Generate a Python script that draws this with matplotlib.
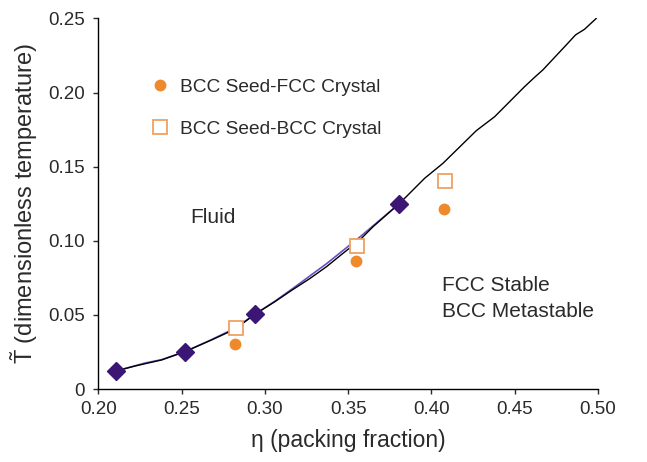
import matplotlib
matplotlib.use("Agg")
import matplotlib.pyplot as plt
from matplotlib.lines import Line2D

plt.rcParams["font.family"] = ["Liberation Sans", "DejaVu Sans"]
plt.rcParams["mathtext.fontset"] = "custom"
plt.rcParams["mathtext.rm"] = "Liberation Sans"
plt.rcParams["mathtext.it"] = "Liberation Sans:italic"

# -----------------------------
# Data
# -----------------------------

# simulated coexistence points (diamonds)
eta_sim = [0.2104, 0.252, 0.294, 0.3805]
T_sim = [0.0121, 0.0252, 0.0504, 0.1248]

# smooth curve through the diamonds (purple)
eta_fit = [0.2104, 0.228, 0.238, 0.252, 0.268, 0.282, 0.294, 0.306, 0.317,
           0.337, 0.357, 0.3805]
T_fit = [0.0121, 0.0175, 0.0198, 0.0252, 0.0333, 0.0410, 0.0504, 0.0592,
         0.0680, 0.0845, 0.1025, 0.1248]

# theoretical melting line (black)
eta_line = [0.2104, 0.222, 0.238, 0.252, 0.268, 0.282, 0.294, 0.306, 0.316,
            0.327, 0.337, 0.347, 0.357, 0.365, 0.3804, 0.384, 0.396, 0.407,
            0.427, 0.438, 0.456, 0.462, 0.467, 0.481, 0.4866, 0.492, 0.499]
T_line = [0.0121, 0.0155, 0.0196, 0.0252, 0.0331, 0.0403, 0.0504, 0.0589,
          0.0665, 0.0745, 0.0825, 0.0916, 0.1005, 0.1095, 0.1248, 0.1287,
          0.1422, 0.1523, 0.1743, 0.1837, 0.2040, 0.2103, 0.2153, 0.2321,
          0.2389, 0.2427, 0.2500]

# seeding simulations
eta_fcc = [0.2823, 0.355, 0.4077]
T_fcc = [0.0306, 0.0864, 0.1213]
eta_bcc = [0.2826, 0.3556, 0.408]
T_bcc = [0.0410, 0.0967, 0.1406]

x_ticks = [0.20, 0.25, 0.30, 0.35, 0.40, 0.45, 0.50]
y_ticks = [0, 0.05, 0.10, 0.15, 0.20, 0.25]
y_labels = ["0", "0.05", "0.10", "0.15", "0.20", "0.25"]

orange = "#ef8a2c"
purple = "#3b1675"
text_col = "#2a2a2a"

# -----------------------------
# Plot
# -----------------------------

fig = plt.figure(figsize=(6.47, 4.62), dpi=100)
ax = fig.add_axes([0.152, 0.158, 0.772, 0.802])

ax.plot(eta_fit, T_fit, color="#6a4fc0", lw=1.2, zorder=2)
ax.plot(eta_line, T_line, color="black", lw=1.0, zorder=3)
ax.plot(eta_sim, T_sim, linestyle="none", marker="D", ms=9,
        color=purple, zorder=4)
ax.plot(eta_fcc, T_fcc, linestyle="none", marker="o", ms=7.5,
        color=orange, zorder=4)
ax.plot(eta_bcc, T_bcc, linestyle="none", marker="s", ms=9.5,
        markerfacecolor="white", markeredgecolor="#f0a060", mew=1.3, zorder=4)

handles = [
    Line2D([], [], linestyle="none", marker="o", ms=7.5, color=orange),
    Line2D([], [], linestyle="none", marker="s", ms=9.5,
           markerfacecolor="white", markeredgecolor="#f0a060", mew=1.3),
]
leg = ax.legend(handles, ["BCC Seed-FCC Crystal", "BCC Seed-BCC Crystal"],
                loc="center left", bbox_to_anchor=(0.105, 0.758),
                frameon=False, fontsize=13.8, labelspacing=1.25,
                handlelength=1.0, handletextpad=0.5, borderaxespad=0,
                borderpad=0)
for t in leg.get_texts():
    t.set_color(text_col)

ax.text(0.255, 0.116, "Fluid", fontsize=15, va="center", ha="left",
        color=text_col)
ax.text(0.4067, 0.070, "FCC Stable", fontsize=15, va="center", ha="left",
        color=text_col)
ax.text(0.4067, 0.052, "BCC Metastable", fontsize=15, va="center",
        ha="left", color=text_col)

ax.set_xlim(0.20, 0.50)
ax.set_ylim(0, 0.25)
ax.set_xticks(x_ticks)
ax.set_xticklabels(["%.2f" % v for v in x_ticks])
ax.set_yticks(y_ticks)
ax.set_yticklabels(y_labels)
ax.tick_params(direction="out", length=3.5, width=1, labelsize=13.5,
               colors=text_col)
ax.tick_params(axis="x", pad=5)
ax.tick_params(axis="y", pad=6)

for side in ["top", "right"]:
    ax.spines[side].set_visible(False)
for side in ["left", "bottom"]:
    ax.spines[side].set_linewidth(1.0)

ax.set_xlabel("\u03b7 (packing fraction)", fontsize=16.5, color=text_col,
              labelpad=8)
ax.set_ylabel(r"$\tilde{\mathrm{T}}$ (dimensionless temperature)",
              fontsize=17, color=text_col, labelpad=6)

plt.savefig("out.png", dpi=100)
